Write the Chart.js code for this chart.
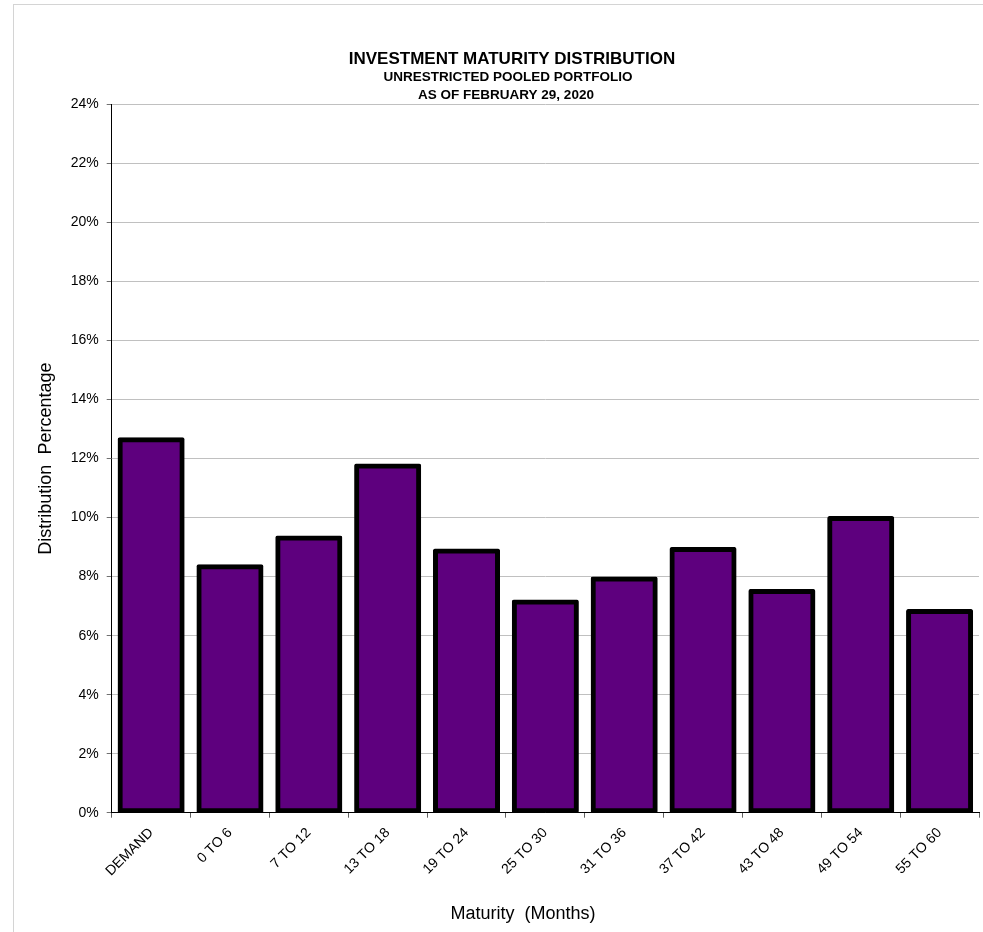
<!DOCTYPE html>
<html>
<head>
<meta charset="utf-8">
<script src="https://cdn.jsdelivr.net/npm/chart.js@4.4.1/dist/chart.umd.min.js"></script>
<style>
  html, body { margin: 0; padding: 0; background: #fff; }
  #wrap { width: 983px; height: 932px; position: relative; }
</style>
</head>
<body>
<div id="wrap"><canvas id="c" width="983" height="932"></canvas></div>
<script>
const categories = ["DEMAND", "0 TO 6", "7 TO 12", "13 TO 18", "19 TO 24", "25 TO 30", "31 TO 36", "37 TO 42", "43 TO 48", "49 TO 54", "55 TO 60"];
const distributionPct = [12.69, 8.39, 9.36, 11.80, 8.92, 7.19, 7.97, 8.97, 7.55, 10.02, 6.87];
const titleLines = ["INVESTMENT MATURITY DISTRIBUTION", "UNRESTRICTED POOLED PORTFOLIO", "AS OF FEBRUARY 29, 2020"];
const xAxisTitle = "Maturity  (Months)";
const yAxisTitle = "Distribution  Percentage";
const yMin = 0, yMax = 24, yStep = 2;

const FONT = "'Liberation Sans', Arial, sans-serif";

const framePlugin = {
  id: 'frame',
  beforeDraw(chart) {
    const ctx = chart.ctx;
    ctx.save();
    ctx.fillStyle = '#ffffff';
    ctx.fillRect(0, 0, chart.width, chart.height);
    ctx.strokeStyle = '#D4D4D4';
    ctx.lineWidth = 1;
    ctx.strokeRect(13.5, 4.5, 2000, 2000);
    ctx.restore();
  },
  afterDraw(chart) {
    const ctx = chart.ctx;
    ctx.save();
    ctx.fillStyle = '#000';
    ctx.textAlign = 'center';
    ctx.textBaseline = 'alphabetic';
    ctx.font = "bold 17px " + FONT;
    ctx.fillText(titleLines[0], 512, 63.5);
    ctx.font = "bold 13.5px " + FONT;
    ctx.fillText(titleLines[1], 508, 80.8);
    ctx.fillText(titleLines[2], 506, 98.8);
    ctx.font = "18px " + FONT;
    ctx.fillText(xAxisTitle, 523, 918.5);
    ctx.restore();
  }
};

new Chart(document.getElementById('c'), {
  type: 'bar',
  data: {
    labels: categories,
    datasets: [{
      data: distributionPct,
      backgroundColor: '#5E007E',
      borderColor: '#000000',
      borderWidth: 5,
      borderSkipped: false,
      borderRadius: 2,
      inflateAmount: 1,
      barPercentage: 0.825,
      categoryPercentage: 1.0
    }]
  },
  options: {
    responsive: false,
    animation: false,
    devicePixelRatio: 1,
    layout: { padding: { top: 104.5, right: 4, bottom: 0, left: 0 } },
    plugins: {
      legend: { display: false },
      title: { display: false },
      tooltip: { enabled: false }
    },
    scales: {
      x: {
        offset: true,
        grid: {
          display: true,
          drawOnChartArea: false,
          drawTicks: true,
          tickLength: 5,
          tickColor: '#606060',
          offset: true
        },
        border: { display: true, color: '#000', width: 1 },
        ticks: {
          color: '#000',
          font: { family: FONT, size: 14 },
          maxRotation: 45,
          minRotation: 45,
          autoSkip: false,
          padding: 7
        },
        afterFit(scale) { scale.height = 932 - 812.7; }
      },
      y: {
        min: yMin,
        max: yMax,
        grid: {
          color: '#C0C0C0',
          lineWidth: 1,
          tickLength: 5,
          tickColor: '#707070'
        },
        border: { display: true, color: '#000', width: 1 },
        ticks: {
          stepSize: yStep,
          color: '#000',
          font: { family: FONT, size: 14 },
          padding: 8,
          callback: (v) => v + '%'
        },
        title: {
          display: true,
          text: yAxisTitle,
          color: '#000',
          font: { family: FONT, size: 18 },
          padding: { top: 35, bottom: 0 }
        },
        afterFit(scale) { scale.width = 111.7; }
      }
    }
  },
  plugins: [framePlugin]
});
</script>
</body>
</html>
